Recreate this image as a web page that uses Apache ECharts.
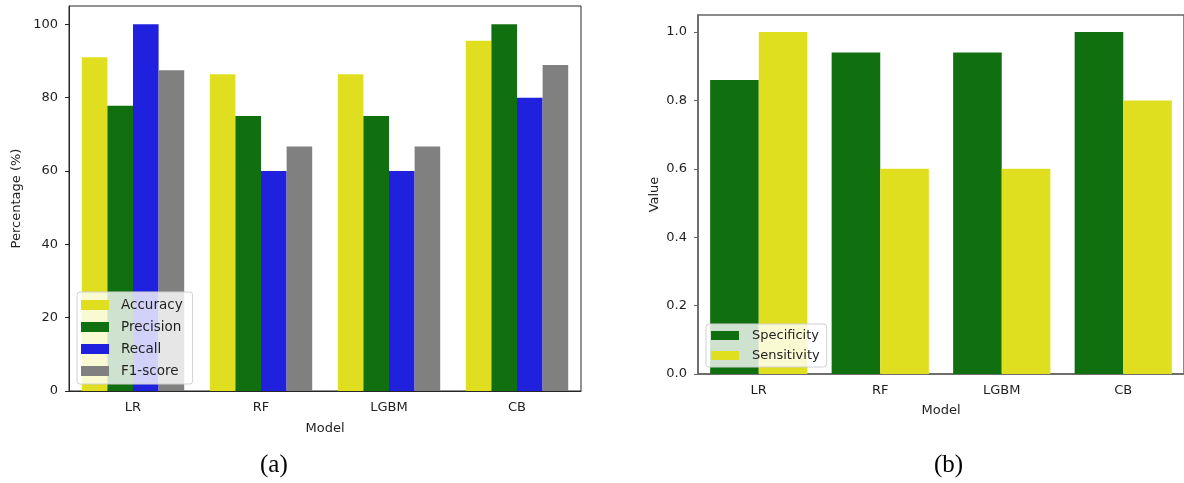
<!DOCTYPE html>
<html>
<head>
<meta charset="utf-8">
<script src="https://cdn.jsdelivr.net/npm/echarts@6/dist/echarts.min.js"></script>
<style>
html,body{margin:0;padding:0;background:#fff;}
#chart{width:1184px;height:483px;}
</style>
</head>
<body>
<div id="chart"></div>
<script>
// ---- data ----
const models = ['LR', 'RF', 'LGBM', 'CB'];
const accuracy = [91.0, 86.4, 86.4, 95.5];
const precision = [77.8, 75.0, 75.0, 100.0];
const recall = [100.0, 60.0, 60.0, 80.0];
const f1score = [87.5, 66.7, 66.7, 88.9];
const specificity = [0.86, 0.94, 0.94, 1.0];
const sensitivity = [1.0, 0.6, 0.6, 0.8];
const leftTicks = { min: 0, max: 105, interval: 20 };
const rightTicks = { min: 0, max: 1.05, interval: 0.2 };

// ---- style ----
const YELLOW = '#dfdf20', GREEN = '#107010', BLUE = '#2020df', GRAY = '#808080';
const FONT = 'DejaVu Sans';
const TXT = '#1f1f1f';

const chart = echarts.init(document.getElementById('chart'), null, { renderer: 'canvas' });

function bar(name, data, color, idx) {
  return {
    name, type: 'bar', data, xAxisIndex: idx, yAxisIndex: idx,
    barGap: '0%', barCategoryGap: '20%',
    itemStyle: { color }, emphasis: { disabled: true }, animation: false
  };
}

const axisLabelStyle = { fontFamily: FONT, fontSize: 13, color: TXT };

chart.setOption({
  animation: false,
  title: [
    { text: '(a)', left: 255, top: 448, textStyle: { fontFamily: 'Liberation Serif', fontSize: 25, fontWeight: 'normal', color: '#000' } },
    { text: '(b)', left: 929, top: 448, textStyle: { fontFamily: 'Liberation Serif', fontSize: 25, fontWeight: 'normal', color: '#000' } }
  ],
  grid: [
    { left: 69, top: 6, width: 512, height: 385, show: true, borderColor: '#262626', borderWidth: 1 },
    { left: 698, top: 15, width: 492, height: 359, show: true, borderColor: '#666', borderWidth: 1.5 }
  ],
  legend: [
    {
      data: ['Accuracy', 'Precision', 'Recall', 'F1-score'],
      orient: 'vertical', left: 77, top: 292,
      itemWidth: 28, itemHeight: 10, itemGap: 8,
      padding: [6, 10, 6, 4],
      backgroundColor: 'rgba(255,255,255,0.8)', borderColor: '#d0d0d0', borderWidth: 1, borderRadius: 3,
      textStyle: { fontFamily: FONT, fontSize: 13.5, color: TXT, padding: [0, 0, 0, 7] },
      icon: 'rect', selectedMode: false
    },
    {
      data: ['Specificity', 'Sensitivity'],
      orient: 'vertical', left: 706, top: 324,
      itemWidth: 28, itemHeight: 9, itemGap: 7,
      padding: [5, 7, 5, 5],
      backgroundColor: 'rgba(255,255,255,0.8)', borderColor: '#d0d0d0', borderWidth: 1, borderRadius: 3,
      textStyle: { fontFamily: FONT, fontSize: 13, color: TXT, padding: [0, 0, 0, 8] },
      icon: 'rect', selectedMode: false
    }
  ],
  xAxis: [
    {
      type: 'category', data: models, gridIndex: 0,
      name: 'Model', nameLocation: 'middle', nameGap: 31,
      nameTextStyle: { fontFamily: FONT, fontSize: 13, color: TXT },
      axisLine: { lineStyle: { color: '#262626', width: 1 } },
      axisTick: { alignWithLabel: true, length: 4, lineStyle: { color: '#262626' } },
      axisLabel: Object.assign({ margin: 10 }, axisLabelStyle)
    },
    {
      type: 'category', data: models, gridIndex: 1,
      name: 'Model', nameLocation: 'middle', nameGap: 30,
      nameTextStyle: { fontFamily: FONT, fontSize: 13, color: TXT },
      axisLine: { lineStyle: { color: '#666', width: 1.5 } },
      axisTick: { alignWithLabel: true, length: 4, lineStyle: { color: '#666' } },
      axisLabel: Object.assign({ margin: 10 }, axisLabelStyle)
    }
  ],
  yAxis: [
    {
      type: 'value', gridIndex: 0, min: leftTicks.min, max: leftTicks.max, interval: leftTicks.interval,
      name: 'Percentage (%)', nameLocation: 'middle', nameGap: 46,
      nameTextStyle: { fontFamily: FONT, fontSize: 13, color: TXT },
      axisLine: { show: true, lineStyle: { color: '#262626', width: 1 } },
      axisTick: { show: true, length: 4, lineStyle: { color: '#262626' } },
      splitLine: { show: false },
      axisLabel: Object.assign({ margin: 11, showMaxLabel: false }, axisLabelStyle)
    },
    {
      type: 'value', gridIndex: 1, min: rightTicks.min, max: rightTicks.max, interval: rightTicks.interval,
      name: 'Value', nameLocation: 'middle', nameGap: 37,
      nameTextStyle: { fontFamily: FONT, fontSize: 13, color: TXT },
      axisLine: { show: true, lineStyle: { color: '#666', width: 1.5 } },
      axisTick: { show: true, length: 4, lineStyle: { color: '#666' } },
      splitLine: { show: false },
      axisLabel: Object.assign({ margin: 11, showMaxLabel: false, formatter: v => v.toFixed(1) }, axisLabelStyle)
    }
  ],
  series: [
    bar('Accuracy', accuracy, YELLOW, 0),
    bar('Precision', precision, GREEN, 0),
    bar('Recall', recall, BLUE, 0),
    bar('F1-score', f1score, GRAY, 0),
    bar('Specificity', specificity, GREEN, 1),
    bar('Sensitivity', sensitivity, YELLOW, 1)
  ]
});
</script>
</body>
</html>
